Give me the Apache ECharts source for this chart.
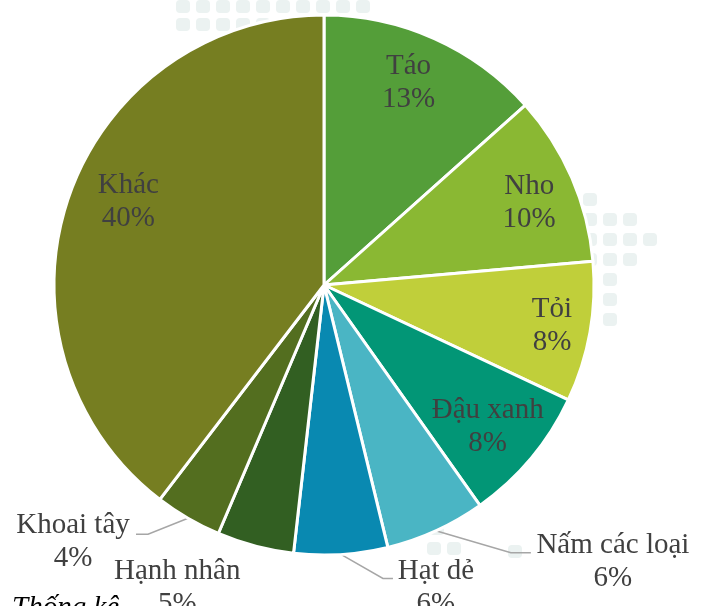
<!DOCTYPE html>
<html>
<head>
<meta charset="utf-8">
<script src="https://cdn.jsdelivr.net/npm/echarts@6/dist/echarts.min.js"></script>
<style>
    html, body { margin: 0; background: #fff; }
    #chart { width: 706px; height: 606px; }
</style>
</head>
<body>
<div id="chart"></div>
<script>
const names = ['Táo', 'Nho', 'Tỏi', 'Đậu xanh', 'Nấm các loại', 'Hạt dẻ', 'Hạnh nhân', 'Khoai tây', 'Khác'];
const values = [13.4, 10.2, 8.4, 8.2, 6.0, 5.6, 4.6, 4.0, 39.6];
const colors = ['#549E39', '#8AB833', '#C0CF3A', '#029676', '#4AB5C4', '#0989B1', '#325F22', '#536E1F', '#767E21'];
const outsideNames = ['Nấm các loại', 'Hạt dẻ', 'Hạnh nhân', 'Khoai tây'];

const cx = 324, cy = 285, R = 270;

// mid angle of every slice, clockwise from 12 o'clock
const total = values.reduce((a, b) => a + b, 0);
const mids = [];
let acc = 0;
values.forEach(v => {
    mids.push((acc + v / 2) / total * 2 * Math.PI);
    acc += v;
});

// inside labels sit further out than echarts' default half radius
const insideNudge = {
    'Táo': [-6, 0],
    'Nho': [2, 6],
    'Tỏi': [10, 2],
    'Đậu xanh': [-6, 0],
    'Khác': [14, -12]
};
// leader lines of the small slices, offsets from the slice edge
const guides = {
    'Nấm các loại': { elbow: [75, 22], end: [95, 22], text: [177, 31] },
    'Hạt dẻ': { elbow: [42, 24], end: [52, 24], text: [95, 33] },
    'Hạnh nhân': { text: [-78, 42] },
    'Khoai tây': { elbow: [-40, 16], end: [-52, 16], text: [-115, 24] }
};

// faint dotted backdrop of the slide (rows of little squares)
const dotRows = [
    { y: 0, x0: 176, n: 10 },
    { y: 18, x0: 176, n: 5 },
    { y: 193, x0: 583, n: 1 },
    { y: 213, x0: 583, n: 3 },
    { y: 233, x0: 583, n: 4 },
    { y: 253, x0: 583, n: 3 },
    { y: 273, x0: 603, n: 1 },
    { y: 293, x0: 603, n: 1 },
    { y: 313, x0: 603, n: 1 },
    { y: 522, x0: 430, n: 1 },
    { y: 542, x0: 427, n: 2 },
    { y: 545, x0: 508, n: 1 }
];
const dots = [];
dotRows.forEach(r => {
    for (let k = 0; k < r.n; k++) {
        dots.push({
            type: 'rect',
            z: -10,
            silent: true,
            shape: { x: r.x0 + k * 20, y: r.y, width: 14, height: 13, r: 4 },
            style: { fill: '#EBF2F1' }
        });
    }
});

function layoutLabel(p) {
    const i = p.dataIndex;
    const a = mids[i];
    const name = names[i];
    const g = guides[name];
    if (!g) {
        const n = insideNudge[name] || [0, 0];
        return {
            x: cx + 0.82 * R * Math.sin(a) + n[0],
            y: cy - 0.82 * R * Math.cos(a) + n[1],
            align: 'center',
            verticalAlign: 'middle'
        };
    }
    const ex = cx + R * Math.sin(a), ey = cy - R * Math.cos(a);
    const out = {
        x: ex + g.text[0],
        y: ey + g.text[1],
        align: 'center',
        verticalAlign: 'middle'
    };
    if (g.elbow) {
        out.labelLinePoints = [
            [ex, ey],
            [ex + g.elbow[0], ey + g.elbow[1]],
            [ex + g.end[0], ey + g.end[1]]
        ];
    }
    return out;
}

const pieData = names.map((name, i) => {
    const isOut = outsideNames.indexOf(name) >= 0;
    return {
        name: name,
        value: values[i],
        itemStyle: { color: colors[i] },
        label: { position: isOut ? 'outside' : 'inside' },
        labelLine: { show: isOut && name !== 'Hạnh nhân' }
    };
});

const option = {
    animation: false,
    backgroundColor: '#fff',
    graphic: dots.concat([{
        type: 'text',
        left: 12,
        top: 594,
        style: {
            text: 'Thống kê',
            font: 'italic 29px "Liberation Serif"',
            fill: '#000'
        }
    }]),
    series: [{
        type: 'pie',
        z: 5,
        center: [cx, cy],
        radius: R,
        startAngle: 90,
        clockwise: true,
        percentPrecision: 0,
        avoidLabelOverlap: false,
        itemStyle: {
            borderColor: '#fff',
            borderWidth: 3
        },
        label: {
            formatter: '{n|{b}}\n{n|{d}%}',
            rich: {
                n: {
                    align: 'center',
                    fontFamily: 'Liberation Serif',
                    fontSize: 29,
                    lineHeight: 33,
                    color: '#404040'
                }
            }
        },
        labelLine: {
            lineStyle: { color: '#A6A6A6', width: 1.5 }
        },
        labelLayout: layoutLabel,
        emphasis: { disabled: true },
        data: pieData
    }]
};

const chart = echarts.init(document.getElementById('chart'), null, { renderer: 'canvas' });
chart.setOption(option);
</script>
</body>
</html>
